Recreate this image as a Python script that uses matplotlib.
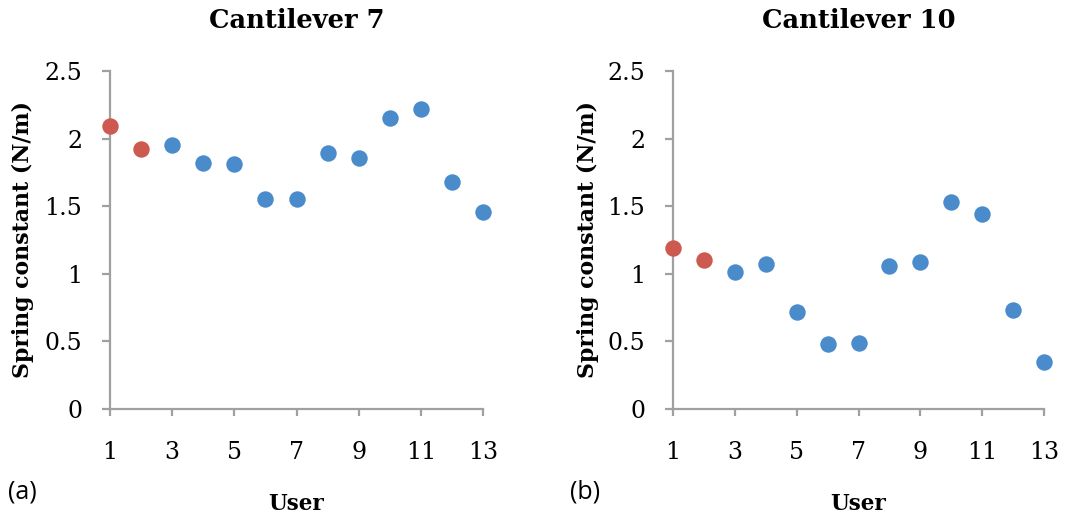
import matplotlib
matplotlib.use("Agg")
import matplotlib.pyplot as plt

users = list(range(1, 14))
cant7 = [2.09, 1.92, 1.95, 1.82, 1.81, 1.55, 1.55, 1.89, 1.86, 2.15, 2.22, 1.68, 1.46]
cant10 = [1.19, 1.10, 1.01, 1.07, 0.72, 0.48, 0.49, 1.06, 1.09, 1.53, 1.44, 0.73, 0.35]
n_red = 2
titles = ["Cantilever 7", "Cantilever 10"]
panel_labels = ["(a)", "(b)"]
xticks = [1, 3, 5, 7, 9, 11, 13]
yticks = [0, 0.5, 1, 1.5, 2, 2.5]
ytick_labels = ["0", "0.5", "1", "1.5", "2", "2.5"]

W, H = 1083, 521
fig = plt.figure(figsize=(W / 100, H / 100), dpi=100)

serif = ["DejaVu Serif"]
red = "#CD5A50"
blue = "#4A8BCB"
gray = "#A0A0A0"

panels = [(110, 483, 22, 23), (673, 1044, 585, 588)]
for i, (data, (x0, x1, lab_x, ylab_x)) in enumerate(zip([cant7, cant10], panels)):
    ax = fig.add_axes([x0 / W, (H - 409) / H, (x1 - x0) / W, 338 / H])
    ax.scatter(users[:n_red], data[:n_red], s=140, color=red, zorder=3, clip_on=False, linewidths=0)
    ax.scatter(users[n_red:], data[n_red:], s=140, color=blue, zorder=3, clip_on=False, linewidths=0)
    ax.set_xlim(1, 13)
    ax.set_ylim(0, 2.5)
    ax.set_xticks(xticks)
    ax.set_xticklabels([str(t) for t in xticks], fontfamily=serif, fontsize=17)
    ax.set_yticks(yticks)
    ax.set_yticklabels(ytick_labels, fontfamily=serif, fontsize=17)
    for s in ["top", "right"]:
        ax.spines[s].set_visible(False)
    for s in ["left", "bottom"]:
        ax.spines[s].set_color(gray)
        ax.spines[s].set_linewidth(1.6)
    ax.tick_params(axis="x", direction="out", length=5, width=1.6, color=gray, pad=18)
    ax.tick_params(axis="y", direction="out", length=6, width=1.6, color=gray, pad=14)
    fig.text((x0 + x1) / 2 / W, (H - 20) / H, titles[i], ha="center", va="center",
             fontfamily=serif, fontsize=18.5, fontweight="bold")
    fig.text(ylab_x / W, (H - 240) / H, "Spring constant (N/m)", rotation=90, ha="center", va="center",
             fontfamily=serif, fontsize=15.8, fontweight="bold")
    fig.text((x0 + x1) / 2 / W, (H - 504) / H, "User", ha="center", va="center",
             fontfamily=serif, fontsize=15.5, fontweight="bold")
    fig.text(lab_x / W, (H - 492) / H, panel_labels[i], ha="center", va="center",
             fontfamily=["Open Sans", "DejaVu Sans"], fontsize=18)

fig.savefig("out.png", dpi=100, facecolor="white")
